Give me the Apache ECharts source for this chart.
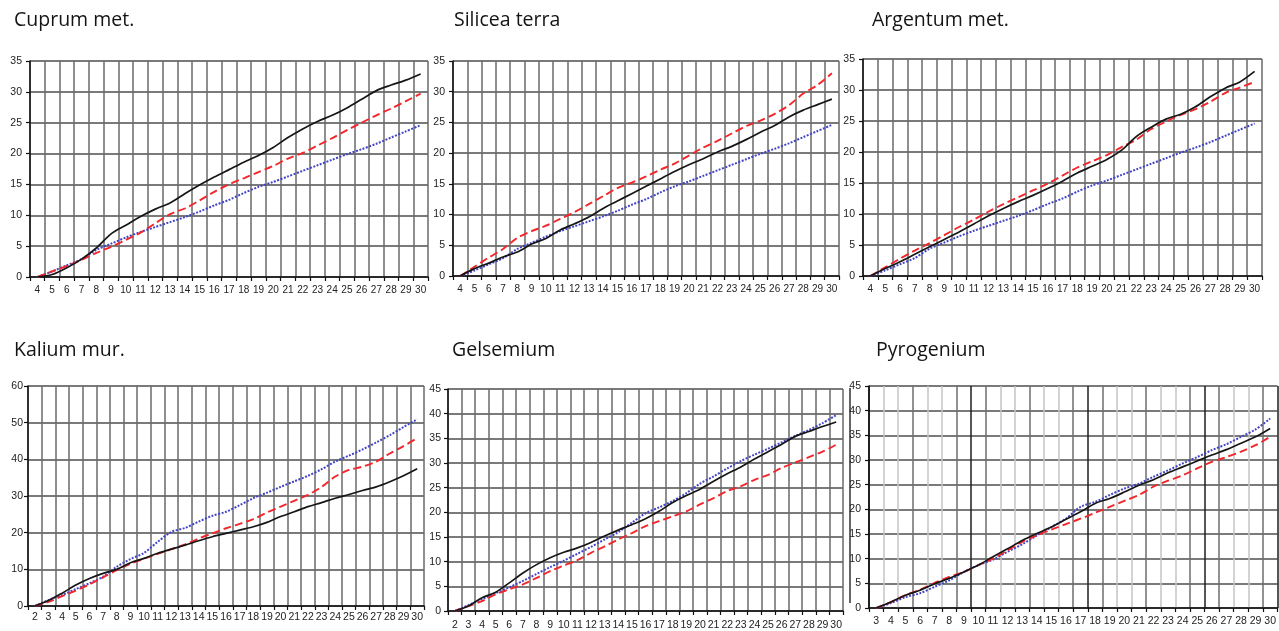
<!DOCTYPE html>
<html>
<head>
<meta charset="utf-8">
<script src="https://cdn.jsdelivr.net/npm/echarts@6/dist/echarts.min.js"></script>
<style>
  html, body { margin: 0; padding: 0; background: #fff; }
  #chart { width: 1279px; height: 631px; }
</style>
</head>
<body>
<div id="chart"></div>
<script>
// Day categories per remedy
const daysFrom4 = ['4','5','6','7','8','9','10','11','12','13','14','15','16','17','18','19','20','21','22','23','24','25','26','27','28','29','30'];
const daysFrom2 = ['2','3','4','5','6','7','8','9','10','11','12','13','14','15','16','17','18','19','20','21','22','23','24','25','26','27','28','29','30'];
const daysFrom3 = ['3','4','5','6','7','8','9','10','11','12','13','14','15','16','17','18','19','20','21','22','23','24','25','26','27','28','29','30'];

// Reference curve shared by the upper row (blue dotted)
const upperBlue = [0, 0.9, 1.9, 2.9, 4.4, 5.4, 6.4, 7.3, 8.1, 8.9, 9.7, 10.6, 11.6, 12.5, 13.6, 14.6, 15.4, 16.3, 17.2, 18.1, 19.0, 19.9, 20.7, 21.6, 22.6, 23.6, 24.6];

// Cuprum met.
const cuprumBlack = [0, 0.4, 1.5, 2.9, 4.7, 7.0, 8.4, 9.8, 11.0, 12.0, 13.5, 14.9, 16.2, 17.4, 18.6, 19.7, 21.0, 22.6, 24.0, 25.2, 26.2, 27.4, 28.8, 30.2, 31.1, 31.9, 32.9];
const cuprumRed   = [0, 0.9, 1.8, 2.8, 3.9, 4.9, 6.0, 7.2, 8.7, 10.2, 11.1, 12.4, 13.8, 15.0, 16.0, 17.0, 18.0, 19.2, 20.1, 21.3, 22.5, 23.8, 25.0, 26.2, 27.3, 28.5, 29.7];

// Silicea terra
const siliceaBlack = [0, 1.2, 2.1, 3.1, 3.9, 5.2, 6.1, 7.5, 8.5, 9.6, 11.0, 12.2, 13.4, 14.6, 15.8, 17.0, 18.1, 19.1, 20.2, 21.1, 22.2, 23.4, 24.5, 25.9, 27.0, 27.9, 28.8];
const siliceaRed   = [0, 1.5, 3.0, 4.4, 6.2, 7.3, 8.2, 9.3, 10.4, 11.7, 13.0, 14.3, 15.2, 16.2, 17.3, 18.3, 19.6, 20.9, 22.0, 23.2, 24.4, 25.3, 26.4, 27.8, 29.7, 31.1, 33.0];

// Argentum met.
const argentumBlack = [0, 1.2, 2.3, 3.5, 4.7, 5.9, 7.1, 8.4, 9.7, 10.9, 12.0, 13.0, 14.1, 15.3, 16.6, 17.7, 18.8, 20.3, 22.5, 24.0, 25.3, 26.1, 27.3, 28.9, 30.3, 31.3, 33.0];
const argentumRed   = [0, 1.4, 2.8, 4.1, 5.3, 6.6, 7.9, 9.1, 10.4, 11.6, 12.7, 13.8, 14.9, 16.2, 17.5, 18.5, 19.5, 20.8, 22.0, 23.7, 24.9, 26.0, 26.9, 28.1, 29.5, 30.4, 31.3];

// Kalium mur.
const kaliumBlack = [0, 1.5, 3.5, 5.7, 7.5, 8.9, 10.0, 11.8, 13.0, 14.4, 15.5, 16.6, 17.8, 18.9, 19.8, 20.7, 21.6, 22.8, 24.4, 25.7, 27.1, 28.2, 29.4, 30.4, 31.5, 32.5, 33.9, 35.5, 37.4];
const kaliumRed   = [0, 1.1, 2.7, 4.2, 5.9, 7.8, 9.8, 11.5, 12.9, 14.2, 15.5, 16.8, 18.4, 19.8, 21.2, 22.4, 23.7, 25.5, 27.1, 28.7, 30.3, 32.5, 35.3, 37.1, 38.0, 39.4, 41.6, 43.6, 45.8];
const kaliumBlue  = [0, 1.6, 3.0, 4.6, 6.2, 8.0, 10.7, 12.8, 14.5, 17.5, 20.2, 21.3, 23.0, 24.6, 25.7, 27.5, 29.4, 30.9, 32.5, 34.0, 35.5, 37.3, 39.4, 41.0, 42.7, 44.6, 46.6, 48.8, 50.9];

// Gelsemium
const gelsemiumBlack = [0, 1.0, 2.7, 3.8, 5.7, 7.7, 9.4, 10.8, 11.9, 12.8, 13.9, 15.2, 16.4, 17.5, 18.7, 20.2, 22.0, 23.4, 24.7, 26.3, 27.8, 29.2, 30.8, 32.3, 33.8, 35.4, 36.4, 37.4, 38.3];
const gelsemiumRed   = [0, 1.0, 2.0, 3.4, 4.4, 5.4, 6.7, 8.1, 9.2, 10.3, 11.8, 13.1, 14.5, 15.8, 17.2, 18.2, 19.2, 20.2, 21.6, 22.9, 24.3, 25.3, 26.6, 27.6, 29.0, 30.1, 31.2, 32.3, 33.7];
const gelsemiumBlue  = [0, 1.2, 2.4, 3.6, 4.8, 6.1, 7.5, 8.9, 10.2, 11.6, 13.0, 14.5, 16.0, 17.9, 19.8, 21.0, 22.3, 23.9, 25.8, 27.3, 28.9, 30.4, 31.7, 32.9, 34.2, 35.5, 36.7, 38.1, 39.7];

// Pyrogenium
const pyroBlack = [0, 1.2, 2.6, 3.6, 4.9, 6.0, 7.3, 8.7, 10.4, 12.0, 13.7, 15.1, 16.4, 18.0, 19.5, 21.2, 22.2, 23.5, 24.9, 26.0, 27.4, 28.6, 29.8, 31.0, 32.1, 33.4, 34.7, 36.4];
const pyroRed   = [0, 1.2, 2.6, 3.7, 5.1, 6.3, 7.3, 8.7, 10.0, 11.7, 13.4, 14.7, 15.9, 17.0, 18.1, 19.3, 20.5, 21.7, 22.9, 24.6, 25.8, 26.9, 28.3, 29.6, 30.6, 31.7, 33.0, 34.7];
const pyroBlue  = [0, 1.0, 2.2, 3.0, 4.3, 5.6, 7.3, 8.7, 9.8, 11.4, 12.9, 14.7, 16.4, 18.1, 20.5, 21.5, 22.9, 24.2, 25.2, 26.6, 27.9, 29.3, 30.6, 32.0, 33.2, 34.7, 36.2, 38.4];

// Vertical grid shades for the Pyrogenium panel (light with darker bands)
const L = '#c4c4c4', D = '#6e6e6e', K = '#1e1e1e';
const pyroGridColors = [K, L, L, D, L, L, D, K, D, L, L, D, L, L, D, K, D, L, L, D, L, L, D, K, D, L, L, D, K];

const panels = [
  { title: 'Cuprum met.',   tx: 14,  ty: 10,  grid: { left: 30,  top: 61,  width: 398, height: 216 }, cats: daysFrom4, yMax: 35, yStep: 5,  xMargin: 8, yMargin: 8, xFont: 10,
    lines: [cuprumBlack, cuprumRed, upperBlue] },
  { title: 'Silicea terra', tx: 454, ty: 10,  grid: { left: 453, top: 61,  width: 386, height: 215 }, cats: daysFrom4, yMax: 35, yStep: 5,  xMargin: 8, yMargin: 8, xFont: 10,
    lines: [siliceaBlack, siliceaRed, upperBlue] },
  { title: 'Argentum met.', tx: 872, ty: 10,  grid: { left: 863, top: 59,  width: 399, height: 217 }, cats: daysFrom4, yMax: 35, yStep: 5,  xMargin: 8, yMargin: 8, xFont: 10,
    lines: [argentumBlack, argentumRed, upperBlue] },
  { title: 'Kalium mur.',   tx: 14,  ty: 340, grid: { left: 28,  top: 386, width: 396, height: 220 }, cats: daysFrom2, yMax: 60, yStep: 10, xMargin: 6, yMargin: 5, xFont: 10.5,
    lines: [kaliumBlack, kaliumRed, kaliumBlue] },
  { title: 'Gelsemium',     tx: 452, ty: 340, grid: { left: 448, top: 389, width: 395, height: 223 }, cats: daysFrom2, yMax: 45, yStep: 5,  xMargin: 9, yMargin: 7, xFont: 10.5,
    lines: [gelsemiumBlack, gelsemiumRed, gelsemiumBlue] },
  { title: 'Pyrogenium',    tx: 876, ty: 340, grid: { left: 869, top: 386, width: 409, height: 222 }, cats: daysFrom3, yMax: 45, yStep: 5,  xMargin: 8, yMargin: 8, xFont: 10.5,
    vColors: pyroGridColors, lines: [pyroBlack, pyroRed, pyroBlue] }
];

const lineLooks = [
  { color: '#161616', width: 1.7, type: 'solid' },
  { color: '#f2262b', width: 1.9, type: [8, 4] },
  { color: '#4343c6', width: 2, type: [2, 1.5] }
];

const option = {
  animation: false,
  backgroundColor: '#ffffff',
  title: [], grid: [], xAxis: [], yAxis: [], series: [],
  graphic: [
    // frame edge of the neighbouring chart in the lower row
    { type: 'line', shape: { x1: 850, y1: 388, x2: 850, y2: 603 }, style: { stroke: '#333', lineWidth: 1.5 } }
  ]
};

panels.forEach((p, i) => {
  option.title.push({
    text: p.title, left: p.tx, top: p.ty, padding: 0,
    textStyle: { fontFamily: 'Open Sans', fontSize: 19.5, fontWeight: 'normal', color: '#141414' }
  });
  option.grid.push(Object.assign({ containLabel: false }, p.grid));
  option.xAxis.push({
    type: 'category', gridIndex: i, data: p.cats, boundaryGap: true,
    axisLine: { show: true, onZero: false, lineStyle: { color: '#111', width: 1.5 } },
    axisTick: { show: true, length: 4, interval: 0, lineStyle: { color: '#111', width: 1.2 } },
    axisLabel: {
      interval: 0, margin: p.xMargin, color: '#222',
      fontFamily: "'Liberation Sans', Arial, sans-serif", fontSize: p.xFont
    },
    splitLine: { show: true, interval: 0, lineStyle: { color: p.vColors || '#6a6a6a', width: 1.5 } }
  });
  option.yAxis.push({
    type: 'value', gridIndex: i, min: 0, max: p.yMax, interval: p.yStep,
    axisLine: { show: true, lineStyle: { color: '#111', width: 1.5 } },
    axisTick: { show: true, length: 4, lineStyle: { color: '#111', width: 1.2 } },
    axisLabel: { margin: p.yMargin, color: '#222', fontFamily: "'Liberation Sans', Arial, sans-serif", fontSize: 10.5 },
    splitLine: { show: true, lineStyle: { color: '#4e4e4e', width: 1.6 } }
  });
  p.lines.forEach((vals, k) => {
    option.series.push({
      type: 'line', xAxisIndex: i, yAxisIndex: i, data: vals,
      smooth: 0.3, symbol: 'none', z: 3 + (2 - k),
      lineStyle: lineLooks[k]
    });
  });
});

const chart = echarts.init(document.getElementById('chart'), null, { renderer: 'canvas' });
chart.setOption(option);
</script>
</body>
</html>
